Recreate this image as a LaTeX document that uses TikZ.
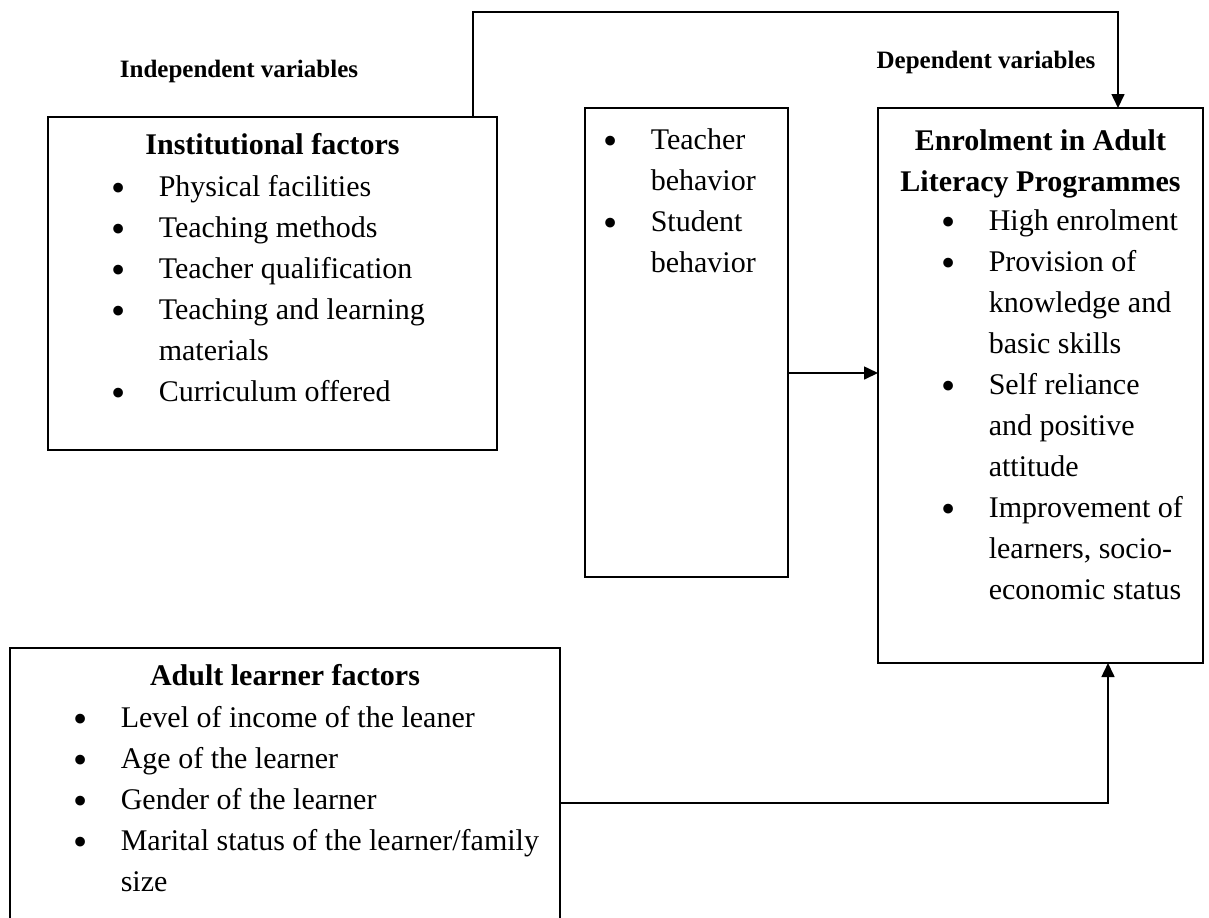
\documentclass[tikz,border=0pt]{standalone}
\usepackage{fontspec}
\setmainfont{Liberation Serif}
\usepackage{tikz}
\usetikzlibrary{arrows.meta,positioning,calc}
\newcommand{\bul}{\llap{\raisebox{-2.6pt}{\scalebox{1.35}{\textbullet}}\hspace{16.5pt}}}

\begin{document}
\begin{tikzpicture}[>={Triangle[length=7pt,width=6.5pt]},x=0.5pt,y=-0.5pt,line width=0.8pt,
  box/.style={draw,rectangle,anchor=north west,inner sep=0pt,outer sep=0pt},
  head/.style={anchor=base,align=center,inner sep=0pt,font=\bfseries\fontsize{15}{20.5}\selectfont},
  items/.style={anchor=base west,align=left,inner sep=0pt,font=\fontsize{15}{20.5}\selectfont},
  tag/.style={anchor=base,inner sep=0pt,font=\bfseries\fontsize{12.5}{15}\selectfont}]
  \useasboundingbox (0,0) rectangle (1209,917);

  % boxes
  \node[box,minimum width=224.5pt,minimum height=166.5pt] (inst) at (48,117) {};
  \node[box,minimum width=101.5pt,minimum height=234.5pt] (mid) at (585,108) {};
  \node[box,minimum width=162.5pt,minimum height=277.5pt] (enrol) at (878,108) {};
  \node[box,minimum width=275pt,minimum height=150pt] (learner) at (10,648) {};

  % side labels
  \node[tag] (indep) at (239,77) {Independent variables};
  \node[tag] (dep) at (986,68) {Dependent variables};

  % multi-line nodes sit on the baseline of their last line
  % institutional factors
  \node[head] (insthead) at (272.5,154) {Institutional factors};
  \node[items] (instlist) at (158,401) {\bul Physical facilities\\
    \bul Teaching methods\\
    \bul Teacher qualification\\
    \bul Teaching and learning\\
    materials\\
    \bul Curriculum offered};

  % behaviour
  \node[items] (midlist) at (650,272) {\bul Teacher\\
    behavior\\
    \bul Student\\
    behavior};

  % enrolment
  \node[head] (enrolhead) at (1040.5,191) {Enrolment in Adult\\Literacy Programmes};
  \node[items] (enrollist) at (988,599) {\bul High enrolment\\
    \bul Provision of\\
    knowledge and\\
    basic skills\\
    \bul Self reliance\\
    and positive\\
    attitude\\
    \bul Improvement of\\
    learners, socio-\\
    economic status};

  % adult learner factors
  \node[head] (learnhead) at (285,685) {Adult learner factors};
  \node[items] (learnlist) at (120,891) {\bul Level of income of the leaner\\
    \bul Age of the learner\\
    \bul Gender of the learner\\
    \bul Marital status of the learner/family\\
    size};

  % connectors
  \coordinate (topL) at (473,12);
  \coordinate (topR) at (1118,12);
  \coordinate (midy) at (830,373);
  \coordinate (botR) at (1108,803);
  \draw[->] (topL |- inst.north) -- (topL) -- (topR) -- (topR |- enrol.north);
  \draw[->] (midy -| mid.east) -- (midy -| enrol.west);
  \draw[->] (botR -| learner.east) -- (botR) -- (botR |- enrol.south);
\end{tikzpicture}
\end{document}
